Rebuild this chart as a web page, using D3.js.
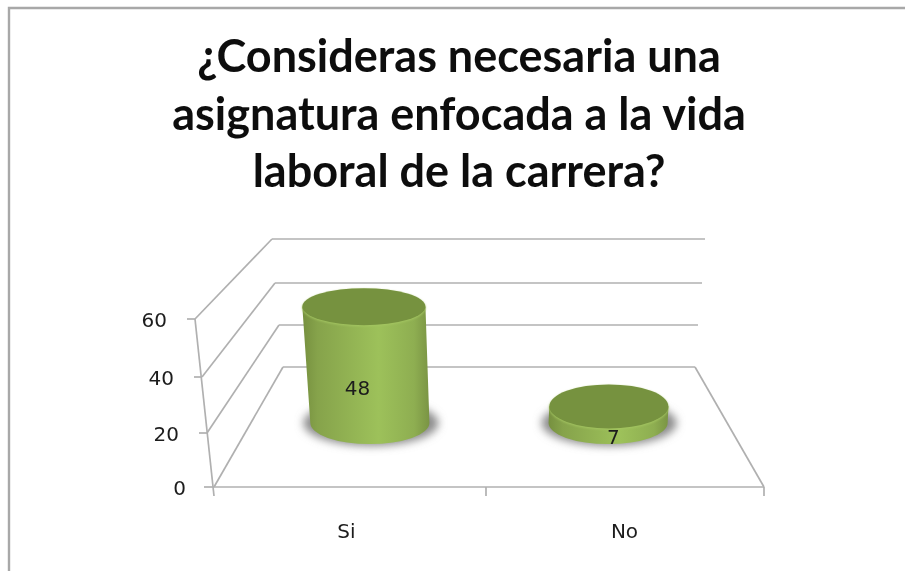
<!DOCTYPE html>
<html>
<head>
<meta charset="utf-8">
<script src="https://cdn.jsdelivr.net/npm/d3@7"></script>
<style>
  html, body { margin: 0; background: #fff; }
  svg { display: block; }
  .grid line { stroke: #b0b0b0; stroke-width: 1.7; }
  .tick-label { font-family: "DejaVu Sans", sans-serif; font-size: 20px; fill: #1c1c1c; }
  .title { font-family: Lato, sans-serif; font-weight: 700; font-size: 45px; fill: #0d0d0d; text-anchor: middle; }
</style>
</head>
<body>
<div id="chart"></div>
<script>
const titleLines = ["¿Consideras necesaria una", "asignatura enfocada a la vida", "laboral de la carrera?"];
const categories = ["Si", "No"];
const values = [48, 7];
const yTicks = [0, 20, 40, 60];

const width = 905, height = 571;

// The 3D box is read as two planes, front and back, each with its own scale
const frontY = d3.scaleLinear().domain(yTicks).range([487, 433, 377, 319]);
const backY = d3.scaleLinear().domain(yTicks).range([367, 325, 283, 239]);
const frontLeft = d3.scaleLinear().domain(yTicks).range([214, 207, 202, 195]);
const backLeft = d3.scaleLinear().domain(yTicks).range([283, 279, 275, 272]);
const frontRight = d3.scaleLinear().domain([0, 60]).range([764, 783]);
const backRight = d3.scaleLinear().domain(yTicks).range([695, 698, 702, 705]);

const xBand = d3.scaleBand().domain(categories).range([0, 1]).paddingInner(0.5).paddingOuter(0.25);
const barDepth = 0.533;  // where the bars stand between the front and back plane

function project(u, z, v) {
  const l = d3.interpolateNumber(frontLeft(v), backLeft(v))(z);
  const r = d3.interpolateNumber(frontRight(v), backRight(v))(z);
  return [l + (r - l) * u, d3.interpolateNumber(frontY(v), backY(v))(z)];
}

const svg = d3.select("#chart").append("svg").attr("width", width).attr("height", height);
const defs = svg.append("defs");

const side = defs.append("linearGradient").attr("id", "side");
side.selectAll("stop")
  .data([[0, "#76903f"], [0.12, "#86a34b"], [0.6, "#9dc15a"], [0.88, "#8eae51"], [1, "#7a9444"]])
  .join("stop").attr("offset", d => d[0]).attr("stop-color", d => d[1]);
defs.append("filter").attr("id", "blur").attr("x", "-30%").attr("y", "-50%").attr("width", "160%").attr("height", "200%")
  .append("feGaussianBlur").attr("stdDeviation", 4.5);
defs.append("filter").attr("id", "soft").attr("x", "-5%").attr("y", "-5%").attr("width", "110%").attr("height", "110%")
  .append("feGaussianBlur").attr("stdDeviation", 0.5);
defs.append("filter").attr("id", "edge").attr("x", "-5%").attr("y", "-5%").attr("width", "110%").attr("height", "110%")
  .append("feGaussianBlur").attr("stdDeviation", 1);

// Border, cut by the right and bottom of the picture
svg.append("path")
  .attr("d", `M9,${height}V8H${width}`)
  .attr("fill", "none").attr("stroke", "#a8a8a8").attr("stroke-width", 2.4);

// Title
svg.append("g").attr("filter", "url(#soft)").selectAll("text").data(titleLines).join("text")
  .attr("class", "title")
  .attr("x", 459)
  .attr("y", (d, i) => 72 + i * 57.5)
  .text(d => d);

// Walls, floor and axis
const grid = svg.append("g").attr("class", "grid").attr("filter", "url(#soft)");
const seg = (a, b) => grid.append("line").attr("x1", a[0]).attr("y1", a[1]).attr("x2", b[0]).attr("y2", b[1]);

yTicks.forEach(v => {
  const f = [frontLeft(v), frontY(v)], b = [backLeft(v), backY(v)];
  seg(f, b);
  seg(b, [backRight(v), backY(v)]);
  seg([f[0] - (v ? 8 : 10), f[1]], f);
});
seg([frontLeft(60), frontY(60)], [frontLeft(0), frontY(0) + 9]);
seg([frontLeft(0), frontY(0)], [frontRight(0), frontY(0)]);
seg([frontRight(0), frontY(0)], [backRight(0), backY(0)]);
seg([frontRight(0), frontY(0)], [frontRight(0), frontY(0) + 9]);
const midTick = project(0.5, 0, 0)[0] - 3;
seg([midTick, frontY(0)], [midTick, frontY(0) + 9]);

// Y tick labels
svg.append("g").attr("filter", "url(#soft)").selectAll("text").data(yTicks).join("text")
  .attr("class", "tick-label")
  .attr("text-anchor", "end")
  .attr("x", d => frontLeft(d) - 28)
  .attr("y", d => frontY(d) + 8)
  .text(d => d);

// Category labels
svg.append("g").attr("filter", "url(#soft)").selectAll("text").data(categories).join("text")
  .attr("class", "tick-label")
  .attr("text-anchor", "middle")
  .attr("x", d => project(xBand(d) + xBand.bandwidth() / 2, 0, 0)[0] + (d === "Si" ? -5 : -2))
  .attr("y", 538)
  .text(d => d);

// Cylinders
const bars = svg.append("g").selectAll("g").data(values).join("g");
bars.each(function (v, i) {
  const g = d3.select(this);
  const u = xBand(categories[i]) + xBand.bandwidth() / 2;
  const base = project(u, barDepth, 0), top = project(u, barDepth, v);
  const rx = (project(u + xBand.bandwidth() / 2, barDepth, 0)[0] - base[0]);
  const ryBase = 21, ryTop = v > 20 ? 18.5 : 22;
  const rxTop = rx + (v > 20 ? 2 : 0);

  g.append("ellipse")
    .attr("cx", base[0] + 1).attr("cy", base[1])
    .attr("rx", rx + 8).attr("ry", ryBase + 2)
    .attr("fill", "#8c8c8c").attr("filter", "url(#blur)");

  g.append("path")
    .attr("d", `M${top[0] - rxTop},${top[1]}L${base[0] - rx},${base[1]}`
      + `A${rx},${ryBase} 0 0 0 ${base[0] + rx},${base[1]}`
      + `L${top[0] + rxTop},${top[1]}Z`)
    .attr("fill", "url(#side)");

  // lighter rim along the front of the top face
  g.append("ellipse")
    .attr("cx", top[0]).attr("cy", top[1] + 1)
    .attr("rx", rxTop).attr("ry", ryTop)
    .attr("fill", "#a4c662").attr("filter", "url(#edge)");

  g.append("ellipse")
    .attr("cx", top[0]).attr("cy", top[1])
    .attr("rx", rxTop).attr("ry", ryTop)
    .attr("fill", "#76923f");

  const mid = project(u, barDepth, v / 2);
  g.append("text")
    .attr("class", "tick-label")
    .attr("text-anchor", "middle")
    .attr("filter", "url(#soft)")
    .attr("x", mid[0] + (v > 20 ? -9 : 5))
    .attr("y", mid[1] + 29)
    .text(v);
});
</script>
</body>
</html>
